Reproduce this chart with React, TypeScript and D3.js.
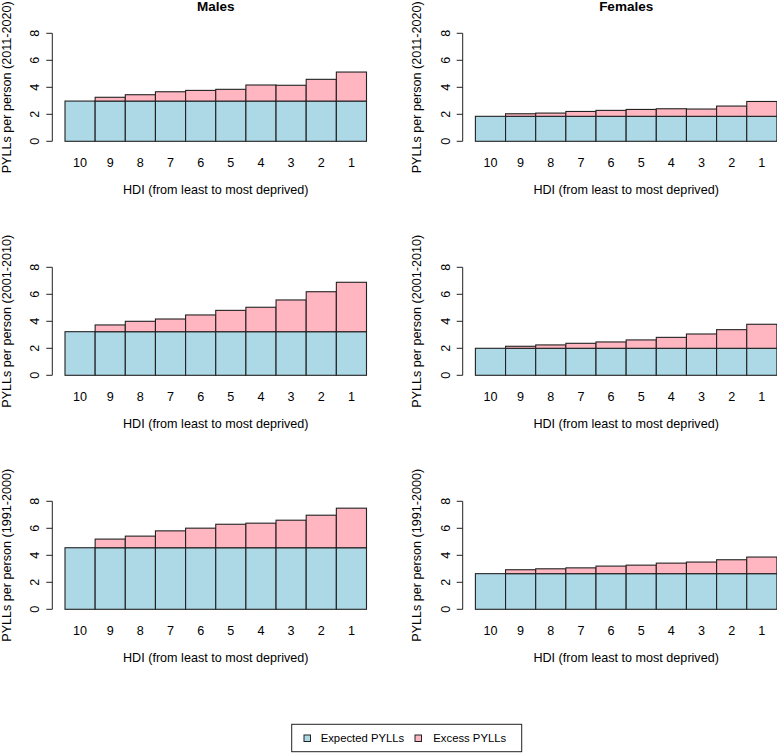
import React from "react";
import * as d3 from "d3";

const categories = ["10", "9", "8", "7", "6", "5", "4", "3", "2", "1"];
const sexes = ["Males", "Females"];
const periods = ["2011-2020", "2001-2010", "1991-2000"];

// Expected PYLLs (same baseline for each decile) per panel
const expMales2011 = [2.98, 2.98, 2.98, 2.98, 2.98, 2.98, 2.98, 2.98, 2.98, 2.98];
const excMales2011 = [0, 0.28, 0.47, 0.69, 0.79, 0.87, 1.19, 1.17, 1.61, 2.15];
const expFemales2011 = [1.85, 1.85, 1.85, 1.85, 1.85, 1.85, 1.85, 1.85, 1.85, 1.85];
const excFemales2011 = [0, 0.19, 0.24, 0.36, 0.44, 0.51, 0.56, 0.54, 0.76, 1.1];
const expMales2001 = [3.23, 3.23, 3.23, 3.23, 3.23, 3.23, 3.23, 3.23, 3.23, 3.23];
const excMales2001 = [0, 0.5, 0.77, 0.94, 1.24, 1.58, 1.81, 2.35, 2.96, 3.66];
const expFemales2001 = [2.0, 2.0, 2.0, 2.0, 2.0, 2.0, 2.0, 2.0, 2.0, 2.0];
const excFemales2001 = [0, 0.15, 0.25, 0.37, 0.47, 0.62, 0.81, 1.06, 1.38, 1.78];
const expMales1991 = [4.56, 4.56, 4.56, 4.56, 4.56, 4.56, 4.56, 4.56, 4.56, 4.56];
const excMales1991 = [0, 0.64, 0.86, 1.25, 1.45, 1.74, 1.82, 2.04, 2.41, 2.93];
const expFemales1991 = [2.64, 2.64, 2.64, 2.64, 2.64, 2.64, 2.64, 2.64, 2.64, 2.64];
const excFemales1991 = [0, 0.29, 0.36, 0.43, 0.56, 0.63, 0.78, 0.86, 1.03, 1.23];

const yTicks = [0, 2, 4, 6, 8];
const legendLabels = ["Expected PYLLs", "Excess PYLLs"];

const panels = [
  [
    { exp: expMales2011, exc: excMales2011 },
    { exp: expFemales2011, exc: excFemales2011 },
  ],
  [
    { exp: expMales2001, exc: excMales2001 },
    { exp: expFemales2001, exc: excFemales2001 },
  ],
  [
    { exp: expMales1991, exc: excMales1991 },
    { exp: expFemales1991, exc: excFemales1991 },
  ],
];

const COL_EXP = "#ADD8E6";
const COL_EXC = "#FFB6C1";
const STROKE = "#222";
const FONT = "'Liberation Sans', Arial, Helvetica, sans-serif";
const FS = 12.6;

function Panel({ ox, oy, exp, exc, title, period }: any) {
  const axisX = ox;
  const x = d3.scaleBand().domain(categories).range([ox + 12.7, ox + 314.2]).padding(0);
  const y = d3.scaleLinear().domain([0, 8]).range([oy + 108, oy]);
  const y0 = y(0);
  const cx = (x.range()[0] + x.range()[1]) / 2;
  return (
    <g>
      {title && (
        <text x={cx} y={oy - 22} textAnchor="middle" fontWeight="bold" fontSize={13.5} fontFamily={FONT}>
          {title}
        </text>
      )}
      {categories.map((c, i) => {
        const bx = x(c)!;
        const bw = x.bandwidth();
        const e = exp[i];
        const t = exp[i] + exc[i];
        return (
          <g key={c}>
            <rect x={bx} y={y(e)} width={bw} height={y0 - y(e)} fill={COL_EXP} stroke={STROKE} strokeWidth={1.1} />
            {exc[i] > 0 && (
              <rect x={bx} y={y(t)} width={bw} height={y(e) - y(t)} fill={COL_EXC} stroke={STROKE} strokeWidth={1.1} />
            )}
          </g>
        );
      })}
      <line x1={axisX} x2={axisX} y1={y(0)} y2={y(8)} stroke={STROKE} strokeWidth={1} />
      {yTicks.map((t) => (
        <g key={t}>
          <line x1={axisX - 6} x2={axisX} y1={y(t)} y2={y(t)} stroke={STROKE} strokeWidth={1} />
          <text
            transform={`translate(${axisX - 17},${y(t)}) rotate(-90)`}
            textAnchor="middle"
            dominantBaseline="central"
            fontSize={FS}
            fontFamily={FONT}
          >
            {t}
          </text>
        </g>
      ))}
      {categories.map((c) => (
        <text key={c} x={x(c)! + x.bandwidth() / 2} y={y0 + 26} textAnchor="middle" fontSize={FS} fontFamily={FONT}>
          {c}
        </text>
      ))}
      <text x={cx} y={y0 + 53} textAnchor="middle" fontSize={FS} fontFamily={FONT}>
        HDI (from least to most deprived)
      </text>
      <text
        transform={`translate(${axisX - 45.5},${y(4)}) rotate(-90)`}
        textAnchor="middle"
        dominantBaseline="central"
        fontSize={FS}
        fontFamily={FONT}
      >
        {`PYLLs per person (${period})`}
      </text>
    </g>
  );
}

export default function App() {
  const colX = [52.3, 462.7];
  const rowY = [33.3, 267.3, 501.3];
  const LFS = 11.3;
  return (
    <svg width={777} height={753} style={{ position: "absolute", left: 0, top: 0, background: "#fff" }}>
      <rect x={0} y={0} width={777} height={753} fill="#fff" />
      {panels.map((row, r) =>
        row.map((p, c) => (
          <Panel
            key={`${r}-${c}`}
            ox={colX[c]}
            oy={rowY[r]}
            exp={p.exp}
            exc={p.exc}
            title={r === 0 ? sexes[c] : null}
            period={periods[r]}
          />
        ))
      )}
      <g>
        <rect x={291.7} y={724.3} width={230} height={27.4} fill="#fff" stroke={STROKE} strokeWidth={1} />
        <rect x={304} y={735} width={6.5} height={6.5} fill={COL_EXP} stroke={STROKE} strokeWidth={1} />
        <text x={320.7} y={742.3} fontSize={LFS} fontFamily={FONT}>{legendLabels[0]}</text>
        <rect x={415} y={735} width={6.5} height={6.5} fill={COL_EXC} stroke={STROKE} strokeWidth={1} />
        <text x={433.3} y={742.3} fontSize={LFS} fontFamily={FONT}>{legendLabels[1]}</text>
      </g>
    </svg>
  );
}
